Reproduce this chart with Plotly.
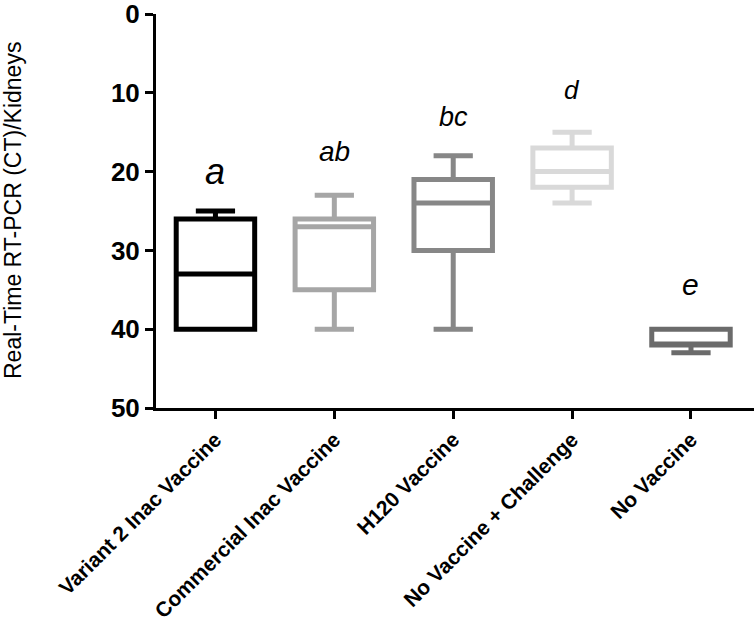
import plotly.graph_objects as go

categories = ["Variant 2 Inac Vaccine", "Commercial Inac Vaccine", "H120 Vaccine",
              "No Vaccine + Challenge", "No Vaccine"]
lower_fence = [25, 23, 18, 15, 40]
q1_values = [26, 26, 21, 17, 40]
median_values = [33, 27, 24, 20, 42]
q3_values = [40, 35, 30, 22, 42]
upper_fence = [40, 40, 40, 24, 43]
colors = ["#000000", "#a6a6a6", "#878787", "#d9d9d9", "#6b6b6b"]

letters = ["a", "ab", "bc", "d", "e"]
letter_y = [20.0, 17.4, 13.1, 9.6, 34.3]
letter_size = [36, 28, 27, 26, 30]

fig = go.Figure()
for i, cat in enumerate(categories):
    fig.add_trace(go.Box(
        x=[cat],
        q1=[q1_values[i]], median=[median_values[i]], q3=[q3_values[i]],
        lowerfence=[lower_fence[i]], upperfence=[upper_fence[i]],
        width=0.66, whiskerwidth=0.5,
        line=dict(color=colors[i], width=5),
        fillcolor="white",
        boxpoints=False,
        showlegend=False,
        hoverinfo="skip",
    ))

for i, cat in enumerate(categories):
    fig.add_annotation(
        x=cat, y=letter_y[i], xref="x", yref="y",
        text=letters[i], showarrow=False,
        xanchor="center", yanchor="middle",
        font=dict(family="Liberation Sans, Arial", size=letter_size[i], color="black",
                  style="italic"),
    )

fig.add_annotation(
    text="Real-Time RT-PCR (CT)/Kidneys",
    xref="paper", yref="paper", x=0, y=0.5, xshift=-143,
    textangle=-90, showarrow=False, xanchor="center", yanchor="middle",
    font=dict(family="Liberation Sans, Arial", size=23, color="black"),
)

fig.update_layout(
    width=754, height=630,
    margin=dict(l=156, r=0, t=14, b=222),
    paper_bgcolor="white", plot_bgcolor="white",
    boxmode="overlay",
    xaxis=dict(
        type="category",
        categoryorder="array", categoryarray=categories,
        range=[-0.5, 4.53],
        automargin=False,
        showline=True, linecolor="black", linewidth=3,
        ticks="outside", ticklen=8, tickwidth=3, tickcolor="black",
        tickangle=-45,
        tickfont=dict(family="Liberation Sans, Arial", size=21, color="black", weight="bold"),
        showgrid=False, zeroline=False,
    ),
    yaxis=dict(
        range=[50, 0],
        automargin=False,
        ticklabeloverflow="allow",
        tickmode="array", tickvals=[0, 10, 20, 30, 40, 50],
        showline=True, linecolor="black", linewidth=3,
        ticks="outside", ticklen=8, tickwidth=3, tickcolor="black",
        tickfont=dict(family="Liberation Sans, Arial", size=26, color="black", weight="bold"),
        showgrid=False, zeroline=False,
    ),
)

fig.write_html("out.html", config={"displayModeBar": False},
               post_script="document.body.style.margin='0px';")
